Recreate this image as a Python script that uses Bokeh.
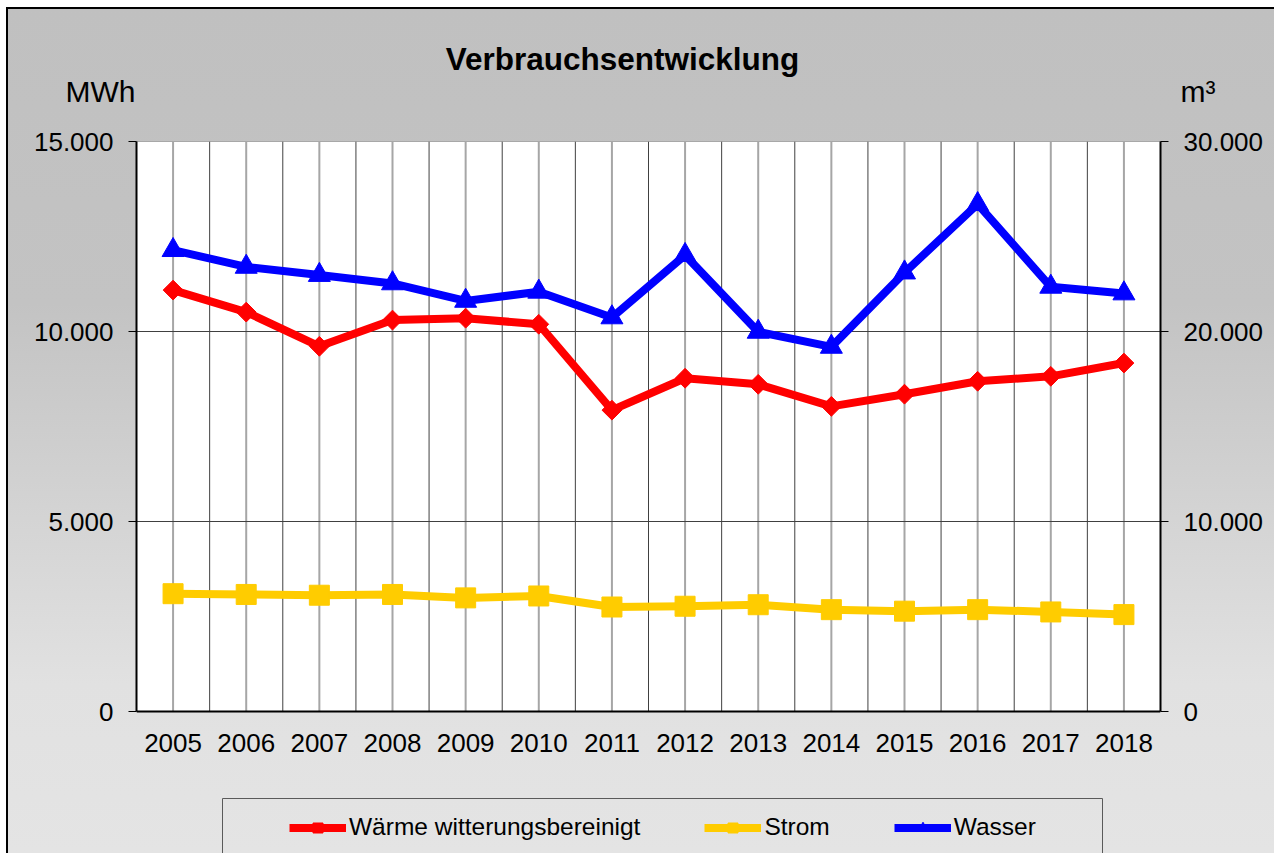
import math
from bokeh.plotting import figure
from bokeh.models import (Range1d, LinearAxis, FixedTicker, Legend, LegendItem,
                          Label, BoxAnnotation, ColumnDataSource)
from bokeh.embed import file_html
from bokeh.resources import INLINE

# ---- data ----
years = [2005, 2006, 2007, 2008, 2009, 2010, 2011, 2012, 2013, 2014, 2015, 2016, 2017, 2018]
waerme = [11090, 10510, 9610, 10300, 10350, 10190, 7930, 8770, 8610, 8030, 8350, 8690, 8820, 9170]
strom = [3100, 3080, 3060, 3080, 2990, 3040, 2750, 2770, 2810, 2680, 2640, 2680, 2620, 2550]
wasser = [24280, 23400, 22970, 22530, 21610, 22090, 20740, 24020, 19980, 19190, 23100, 26700, 22350, 22000]
left_ticks = [0, 5000, 10000, 15000]
right_ticks = [0, 10000, 20000, 30000]
series_names = ["Wärme witterungsbereinigt", "Strom", "Wasser"]
title_text = "Verbrauchsentwicklung"
left_unit = "MWh"
right_unit = "m³"

FONT = "Liberation Sans"


def fmt(v):
    return f"{v:,}".replace(",", ".")


idx = list(range(len(years)))

# ---- layout (pixels) ----
W, H = 1274, 853
PLOT_LEFT, PLOT_RIGHT, PLOT_TOP, PLOT_BOTTOM = 136, 1160, 141, 711
# the frame reaches the bottom of the canvas so that the legend can sit inside it
extra = (H - PLOT_BOTTOM) / (PLOT_BOTTOM - PLOT_TOP)
l0, l1 = left_ticks[0], left_ticks[-1]
r0, r1 = right_ticks[0], right_ticks[-1]

p = figure(width=W, height=H, output_backend="svg", toolbar_location=None,
           x_range=Range1d(idx[0] - 0.5, idx[-1] + 0.5),
           y_range=Range1d(l0 - extra * (l1 - l0), l1),
           x_axis_type=None, y_axis_type=None,
           min_border_left=PLOT_LEFT, min_border_right=W - PLOT_RIGHT,
           min_border_top=PLOT_TOP, min_border_bottom=0)
p.extra_y_ranges = {"right": Range1d(r0 - extra * (r1 - r0), r1)}
p.background_fill_color = None
p.border_fill_color = None
p.outline_line_color = None

line = "linear-gradient(#000,#000)"
p.styles = {
    "background": ", ".join([
        f"{line} 6px 7px / 1268px 2px no-repeat",
        f"{line} 6px 7px / 2px 846px no-repeat",
        "linear-gradient(to bottom, #c0c0c0 0%, #c3c3c3 35%, #e1e1e1 80%, #e4e4e4 100%) 6px 7px / 1268px 846px no-repeat",
        "#ffffff",
    ]),
}

# white plot area with grey top edge
p.quad(left=[idx[0] - 0.5], right=[idx[-1] + 0.5], bottom=[l0], top=[l1],
       fill_color="white", line_color="#808080", line_width=1)

# grid lines (limited to the plot area)
p.segment(x0=idx, y0=[l0] * len(idx), x1=idx, y1=[l1] * len(idx),
          line_color="#a6a6a6", line_width=2)
bnd = [i + 0.5 for i in idx[:-1]]
p.segment(x0=bnd, y0=[l0] * len(bnd), x1=bnd, y1=[l1] * len(bnd),
          line_color="#404040", line_width=1)
hg = [t for t in left_ticks if l0 < t < l1]
p.segment(x0=[idx[0] - 0.5] * len(hg), y0=hg, x1=[idx[-1] + 0.5] * len(hg), y1=hg,
          line_color="#404040", line_width=1)

# axes
xaxis = LinearAxis(fixed_location=l0,
                   ticker=FixedTicker(ticks=idx, minor_ticks=[]),
                   major_label_overrides={i: str(y) for i, y in zip(idx, years)},
                   major_tick_out=0, major_tick_in=0,
                   axis_line_color="black", axis_line_width=2,
                   major_label_text_font_size="26px", major_label_text_font=FONT,
                   major_label_text_color="black", major_label_standoff=22)
p.add_layout(xaxis, "below")

laxis = LinearAxis(bounds=(l0, l1),
                   ticker=FixedTicker(ticks=left_ticks, minor_ticks=[]),
                   major_label_overrides={t: fmt(t) for t in left_ticks},
                   major_tick_out=8, major_tick_in=0, major_tick_line_color="black",
                   axis_line_color="black", axis_line_width=2,
                   major_label_text_font_size="26px", major_label_text_font=FONT,
                   major_label_text_color="black", major_label_standoff=15)
p.add_layout(laxis, "left")

raxis = LinearAxis(y_range_name="right", bounds=(r0, r1),
                   ticker=FixedTicker(ticks=right_ticks, minor_ticks=[]),
                   major_label_overrides={t: fmt(t) for t in right_ticks},
                   major_tick_out=8, major_tick_in=0, major_tick_line_color="black",
                   axis_line_color="black", axis_line_width=2,
                   major_label_text_font_size="26px", major_label_text_font=FONT,
                   major_label_text_color="black", major_label_standoff=15)
p.add_layout(raxis, "right")

# series
src = ColumnDataSource(dict(x=idx, w=waerme, s=strom, a=wasser))
g1 = p.line("x", "w", source=src, line_color="#ff0000", line_width=8, line_join="round")
m1 = p.scatter("x", "w", source=src, marker="square", angle=math.pi / 4, size=14,
               fill_color="#ff0000", line_color="#ff0000")
g2 = p.line("x", "s", source=src, line_color="#ffcc00", line_width=8, line_join="round")
m2 = p.scatter("x", "s", source=src, marker="square", size=20,
               fill_color="#ffcc00", line_color="#ffcc00")
g3 = p.line("x", "a", source=src, y_range_name="right", line_color="#0000ff", line_width=8,
            line_join="round")
m3 = p.scatter("x", "a", source=src, y_range_name="right", marker="triangle", size=22,
               fill_color="#0000ff", line_color="#0000ff")

# legend frame + legend
p.add_layout(BoxAnnotation(left=222, right=1102, top=798, bottom=880,
                           left_units="canvas", right_units="canvas",
                           top_units="canvas", bottom_units="canvas",
                           fill_color=None, fill_alpha=0,
                           line_color="#5a5a5a", line_alpha=1, line_width=1))

legend = Legend(items=[LegendItem(label=series_names[0], renderers=[g1, m1]),
                       LegendItem(label=series_names[1], renderers=[g2, m2]),
                       LegendItem(label=series_names[2], renderers=[g3, m3])],
                orientation="horizontal", location=(145, 4),
                glyph_width=57, glyph_height=25, label_standoff=3, spacing=64,
                padding=8, margin=0,
                background_fill_alpha=0, border_line_alpha=0,
                label_text_font_size="24.5px", label_text_font=FONT,
                label_text_color="black")
p.add_layout(legend, "center")

# title and unit labels (canvas pixel units, in the top panel)
p.add_layout(Label(x=622, y=58, x_units="canvas", y_units="canvas", text=title_text,
                   text_align="center", text_baseline="alphabetic",
                   text_font=FONT, text_font_size="31.5px", text_font_style="bold",
                   text_color="black"), "above")
p.add_layout(Label(x=65, y=91, x_units="canvas", y_units="canvas", text=left_unit,
                   text_align="left", text_baseline="alphabetic",
                   text_font=FONT, text_font_size="30px", text_color="black"), "above")
p.add_layout(Label(x=1180, y=91, x_units="canvas", y_units="canvas", text=right_unit,
                   text_align="left", text_baseline="alphabetic",
                   text_font=FONT, text_font_size="30px", text_color="black"), "above")

with open("out.html", "w", encoding="utf-8") as f:
    f.write(file_html(p, INLINE))
